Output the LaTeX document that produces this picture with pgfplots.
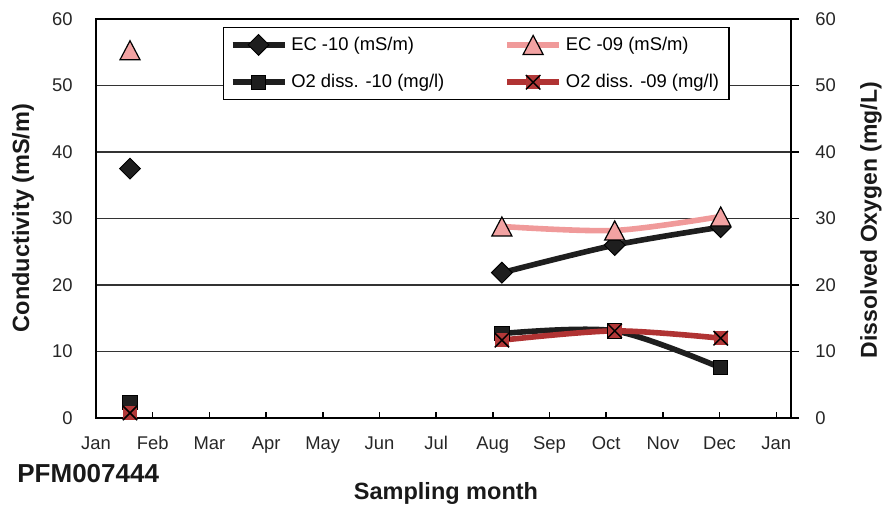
\documentclass[border=0pt]{standalone}
\usepackage{pgfplots}
\pgfplotsset{compat=1.18}
\usepackage{fontspec}
\setmainfont{Liberation Sans}
\definecolor{blk}{HTML}{1E1E1E}
\definecolor{pinkl}{HTML}{F09A9A}
\definecolor{pinkf}{HTML}{F2A2A2}
\definecolor{redl}{HTML}{B03333}
\definecolor{redf}{HTML}{B23838}
\definecolor{gridc}{HTML}{333333}
\pgfdeclareplotmark{exdiamond}{%
  \pgfpathmoveto{\pgfqpoint{0pt}{\pgfplotmarksize}}%
  \pgfpathlineto{\pgfqpoint{\pgfplotmarksize}{0pt}}%
  \pgfpathlineto{\pgfqpoint{0pt}{-\pgfplotmarksize}}%
  \pgfpathlineto{\pgfqpoint{-\pgfplotmarksize}{0pt}}%
  \pgfpathclose\pgfusepathqfillstroke}
\pgfdeclareplotmark{extri}{%
  \pgfpathmoveto{\pgfqpoint{0pt}{0.95\pgfplotmarksize}}%
  \pgfpathlineto{\pgfqpoint{\pgfplotmarksize}{-0.95\pgfplotmarksize}}%
  \pgfpathlineto{\pgfqpoint{-\pgfplotmarksize}{-0.95\pgfplotmarksize}}%
  \pgfpathclose\pgfusepathqfillstroke}
\pgfdeclareplotmark{xsq}{%
  \pgfpathrectangle{\pgfqpoint{-\pgfplotmarksize}{-\pgfplotmarksize}}{\pgfqpoint{2\pgfplotmarksize}{2\pgfplotmarksize}}%
  \pgfusepathqfill
  \pgfpathmoveto{\pgfqpoint{-\pgfplotmarksize}{-\pgfplotmarksize}}%
  \pgfpathlineto{\pgfqpoint{\pgfplotmarksize}{\pgfplotmarksize}}%
  \pgfpathmoveto{\pgfqpoint{-\pgfplotmarksize}{\pgfplotmarksize}}%
  \pgfpathlineto{\pgfqpoint{\pgfplotmarksize}{-\pgfplotmarksize}}%
  \pgfusepathqstroke}
\begin{document}
\begin{tikzpicture}
\useasboundingbox (-48pt,-44.5pt) rectangle (393.5pt,209pt);
\begin{axis}[
  scale only axis, width=347.5pt, height=199.5pt,
  xmin=0, xmax=12.26, ymin=0, ymax=60,
  xtick={0,...,12},
  xticklabels={Jan,Feb,Mar,Apr,May,Jun,Jul,Aug,Sep,Oct,Nov,Dec,Jan},
  ytick={0,10,...,60},
  xtick pos=bottom, ytick pos=left,
  tick align=inside,
  major tick length=3pt,
  ymajorgrids,
  major grid style={color=gridc, line width=0.9pt},
  axis line style={line width=1pt, black},
  xtick style={line width=0.75pt, black},
  ytick style={draw=none},
  tick label style={font=\fontsize{9.2}{11}\selectfont, text=black!85},
  /pgf/number format/assume math mode=true,
  xticklabel style={anchor=base, inner sep=0pt, yshift=-15.6pt},
  yticklabel style={anchor=east, inner sep=0pt, xshift=-11.5pt},
  legend columns=2,
  legend cell align=left,
  legend style={at={(0.1827,0.98)}, anchor=north west, draw=black, line width=0.75pt,
    inner xsep=3pt, inner ysep=2.5pt, row sep=6.5pt,
    font=\fontsize{9.2}{11}\selectfont,
    nodes={inner sep=2pt},
    /tikz/every even column/.append style={column sep=28pt}},
  legend image code/.code={%
    \draw[mark repeat=2,mark phase=2,#1] plot coordinates {(0pt,0pt) (13pt,0pt) (26pt,0pt)};},
]
\addplot[blk, line width=2.8pt, smooth, mark=exdiamond, mark size=5.2pt,
  mark options={solid, fill=blk, draw=black, line width=0.5pt}]
  coordinates {(7.16,21.85) (9.15,26.0) (11.02,28.7)};
\addlegendentry{EC -10 (mS/m)}
\addplot[pinkl, line width=2.8pt, smooth, mark=extri, mark size=5pt,
  mark options={solid, fill=pinkf, draw=black, line width=0.6pt}]
  coordinates {(7.16,28.8) (9.15,28.2) (11.02,30.3)};
\addlegendentry{EC -09 (mS/m)}
\addplot[blk, line width=2.8pt, smooth, mark=square*, mark size=3.6pt,
  mark options={solid, fill=blk, draw=black, line width=0.5pt}]
  coordinates {(7.16,12.7) (9.15,13.1) (11.02,7.55)};
\addlegendentry{O2 diss. -10 (mg/l)}
\addplot[redl, line width=2.8pt, smooth, mark=xsq, mark size=3.6pt,
  mark options={solid, fill=redf, draw=black, line width=0.75pt}]
  coordinates {(7.16,11.7) (9.15,13.1) (11.02,12.0)};
\addlegendentry{O2 diss. -09 (mg/l)}
% separate January samples
\addplot[forget plot, only marks, mark=exdiamond, mark size=5.2pt,
  mark options={fill=blk, draw=black, line width=0.5pt}]
  coordinates {(0.6,37.5)};
\addplot[forget plot, only marks, mark=extri, mark size=5pt,
  mark options={fill=pinkf, draw=black, line width=0.6pt}]
  coordinates {(0.6,55.3)};
\addplot[forget plot, only marks, mark=square*, mark size=3.6pt,
  mark options={fill=blk, draw=black, line width=0.5pt}]
  coordinates {(0.6,2.3)};
\addplot[forget plot, only marks, mark=xsq, mark size=3.6pt,
  mark options={fill=redf, draw=black, line width=0.75pt}]
  coordinates {(0.6,0.75)};
\end{axis}
\begin{axis}[
  scale only axis, width=347.5pt, height=199.5pt,
  xmin=0, xmax=12.26, ymin=0, ymax=60,
  axis x line=none, axis y line*=right,
  ytick={0,10,...,60},
  tick align=outside,
  major tick length=4pt,
  axis line style={line width=1pt, black},
  ytick style={line width=0.75pt, black},
  tick label style={font=\fontsize{9.2}{11}\selectfont, text=black!85},
  /pgf/number format/assume math mode=true,
  yticklabel style={anchor=west, inner sep=0pt, xshift=8pt},
]
\end{axis}
\node[rotate=90, font=\bfseries\fontsize{11.75}{14}\selectfont, text=black!90] at (-36.5pt,100pt) {Conductivity (mS/m)};
\node[rotate=90, font=\bfseries\fontsize{11.5}{14}\selectfont, text=black!90] at (387.5pt,99pt) {Dissolved Oxygen (mg/L)};
\node[font=\bfseries\fontsize{11.75}{14}\selectfont, text=black!90] at (175pt,-37.5pt) {Sampling month};
\node[anchor=west, inner sep=0pt, font=\bfseries\fontsize{13}{15}\selectfont, text=black!90] at (-39.5pt,-27.75pt) {PFM007444};
\end{tikzpicture}
\end{document}
